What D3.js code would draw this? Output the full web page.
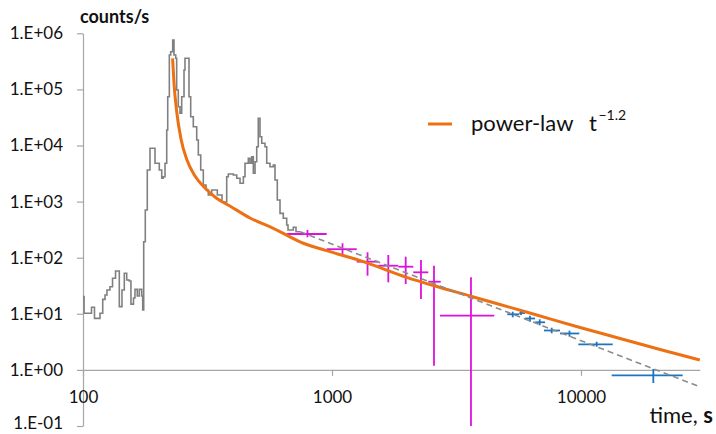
<!DOCTYPE html>
<html><head><meta charset="utf-8">
<script src="https://cdn.jsdelivr.net/npm/d3@7"></script>
<style>body{margin:0;background:#fff}svg{display:block;font-family:Lato,"Open Sans",sans-serif}</style>
</head><body><svg id="c" width="716" height="434"></svg>
<script>
// ---- data ----
const xTicks = [100, 1000, 10000];
const yTicks = [0.1, 1, 10, 100, 1000, 10000, 100000, 1000000];

// gray light curve (step, value holds from time until next time)
const lcTime = [100, 101, 108.2, 111.2, 117.0, 120.0, 122.6, 124.8, 128.3, 131.4, 135.1, 139.9, 143.4, 146.5, 149.8, 153.4, 155.8, 159.5, 161.7, 165.2, 168.3, 172.1, 173.7, 175.3, 177.9, 181.2, 185.8, 194.6, 202.5, 207.1, 210.1, 213.5, 216.9, 218.9, 222.2, 225.0, 229.2, 232.0, 235.7, 237.8, 241.4, 245.2, 249.1, 254.5, 256.8, 266.5, 270.7, 277.3, 286.2, 290.5, 297.0, 304.2, 311.9, 318.6, 328.8, 346.3, 361.6, 377.7, 383.3, 401.5, 414.4, 427.2, 440.5, 447.4, 461.3, 468.6, 476.0, 483.1, 490.8, 498.5, 505.8, 513.9, 522.1, 538.2, 546.8, 563.6, 581.1, 590.3, 603.0, 618.3, 637.4, 657.8, 665.7, 699.2, 716.9, 743.8];
const lcRate = [20.2, 10.2, 13.1, 8.3, 10.2, 18.1, 21.6, 26.6, 30.4, 42.9, 57.9, 13.4, 26.6, 52.7, 40.0, 38.4, 14.9, 19.1, 27.3, 20.8, 27.3, 20.8, 11.7, 192.9, 708.7, 3658, 8915, 4817, 3658, 2602, 2779, 4817, 18890, 74100, 410500, 469900, 759800, 410500, 358400, 97560, 49160, 37500, 74100, 221800, 358400, 74100, 32620, 21640, 12530, 6772, 3658, 1977, 1610, 1311, 1610, 1311, 984, 2779, 3105, 2980, 2602, 2120, 2779, 4817, 5912, 4817, 6317, 3195, 5142, 9520, 30530, 14350, 10940, 9520, 4817, 4190, 4492, 2427, 1068, 618, 504, 383, 312, 348, 291, 291];

// orange power-law model
const plTime = [229, 232, 237.8, 247.5, 261.6, 281.7, 309, 344, 389, 468.6, 581, 767, 982, 1336, 1995, 2552, 3583, 4728, 6434, 9908, 14340, 20770, 30000];
const plRate = [3.58e5, 1.28e5, 4.04e4, 1.31e4, 5520, 2860, 1746, 1145, 835, 510, 334, 181, 128, 84.9, 44.7, 31.9, 20.8, 14.65, 9.92, 5.70, 3.63, 2.31, 1.50];

// gray dashed fit
const fitTime = [744, 30000];
const fitRate = [291, 0.5];

// magenta data points with error bars
const magT   = [797, 1102, 1389, 1683, 1977, 2277, 2568, 3615];
const magTLo = [658, 952, 1257, 1535, 1846, 2121, 2436, 2715];
const magTHi = [952, 1257, 1535, 1846, 2121, 2436, 2733, 4485];
const magV   = [264.6, 141.8, 84.9, 72, 69.1, 54.9, 37.3, 9.25];
const magVLo = [231, 111.7, 47.8, 36.4, 34, 18.4, 1.19, 0.1];
const magVHi = [311.7, 180.6, 124.9, 111.7, 104.2, 91, 72, 44.8];

// blue data points with error bars
const bluT   = [5318, 5741, 6241, 6826, 7626, 8990, 11560, 19520];
const bluTLo = [5058, 5653, 5958, 6537, 7103, 8234, 9754, 13280];
const bluTHi = [5653, 5958, 6537, 7170, 8234, 9844, 13410, 25610];
const bluV   = [9.80, 10.33, 8.25, 7.06, 5.04, 4.46, 2.86, 0.801];
const bluVLo = [8.66, 9.52, 7.23, 6.24, 4.49, 3.91, 2.59, 0.584];
const bluVHi = [10.9, 11.2, 9.25, 7.98, 5.65, 5.0, 3.18, 1.04];

// ---- drawing ----
const svg = d3.select("#c");
const x = d3.scaleLog().domain([100, 30000]).range([83, 699.8]);
const y = d3.scaleLog().domain([0.1, 1e6]).range([426, 33.3]);

svg.append("defs").append("clipPath").attr("id", "clip")
  .append("rect").attr("x", 83).attr("y", 20).attr("width", 618).attr("height", 407);

const AXC = "#a6a6a6";
const fmt = v => { const e = Math.round(Math.log10(v)); return "1.E" + (e < 0 ? "-" : "+") + String(Math.abs(e)).padStart(2, "0"); };

const gy = svg.append("g").attr("transform", "translate(83,0)")
  .call(d3.axisLeft(y).tickValues(yTicks).tickFormat(fmt).tickSize(6).tickSizeOuter(0).tickPadding(14));
const gx = svg.append("g").attr("transform", `translate(0,${y(1)})`)
  .call(d3.axisBottom(x).tickValues(xTicks).tickFormat(d3.format("d")).tickSize(6).tickSizeOuter(0).tickPadding(15));
[gy, gx].forEach(g => {
  g.select(".domain").attr("stroke", AXC).attr("stroke-width", 1.2);
  g.selectAll(".tick line").attr("stroke", AXC).attr("stroke-width", 1.2);
  g.selectAll(".tick text").attr("font-family", "Lato").attr("font-size", 17).attr("fill", "#111");
});
// keep the lowest y label inside the frame
gy.selectAll(".tick text").filter(d => d === 0.1).attr("dy", "0.12em");

const plot = svg.append("g").attr("clip-path", "url(#clip)");

const lc = lcTime.map((t, i) => ({t, v: lcRate[i]}));
plot.append("path").datum(lc)
  .attr("d", d3.line().x(d => x(d.t)).y(d => y(d.v)).curve(d3.curveStepAfter))
  .attr("fill", "none").attr("stroke", "#808080").attr("stroke-width", 1.6);

function bars(T, TLo, THi, V, VLo, VHi, color, w) {
  const g = plot.append("g").attr("stroke", color).attr("stroke-width", w);
  T.forEach((t, i) => {
    g.append("line").attr("x1", x(TLo[i])).attr("x2", x(THi[i])).attr("y1", y(V[i])).attr("y2", y(V[i]));
    g.append("line").attr("x1", x(t)).attr("x2", x(t)).attr("y1", y(VHi[i])).attr("y2", y(VLo[i]));
  });
}
bars(magT, magTLo, magTHi, magV, magVLo, magVHi, "#dd11dd", 1.8);
bars(bluT, bluTLo, bluTHi, bluV, bluVLo, bluVHi, "#1f74c0", 1.8);

const pl = plTime.map((t, i) => ({t, v: plRate[i]}));
plot.append("path").datum(pl)
  .attr("d", d3.line().x(d => x(d.t)).y(d => y(d.v)).curve(d3.curveMonotoneX))
  .attr("fill", "none").attr("stroke", "#ec7014").attr("stroke-width", 3);

const fit = fitTime.map((t, i) => ({t, v: fitRate[i]}));
plot.append("path").datum(fit)
  .attr("d", d3.line().x(d => x(d.t)).y(d => y(d.v)))
  .attr("fill", "none").attr("stroke", "#8c8c8c").attr("stroke-width", 1.6).attr("stroke-dasharray", "6,4");

// titles
svg.append("text").attr("x", 80).attr("y", 23).attr("font-size", 18).attr("font-weight", "bold").attr("fill", "#111").text("counts/s");
const tt = svg.append("text").attr("x", 713).attr("y", 423).attr("text-anchor", "end").attr("font-size", 22).attr("fill", "#111");
tt.append("tspan").text("time, ");
tt.append("tspan").attr("font-weight", "bold").text("s");

// legend
svg.append("line").attr("x1", 428).attr("x2", 452).attr("y1", 124).attr("y2", 124).attr("stroke", "#ec7014").attr("stroke-width", 3);
svg.append("text").attr("x", 471).attr("y", 131).attr("font-size", 22).attr("fill", "#111").text("power-law");
svg.append("text").attr("x", 589).attr("y", 131).attr("font-size", 22).attr("fill", "#111").text("t");
svg.append("text").attr("x", 598.5).attr("y", 120).attr("font-size", 14).attr("fill", "#111").text("\u22121.2");
</script></body></html>
